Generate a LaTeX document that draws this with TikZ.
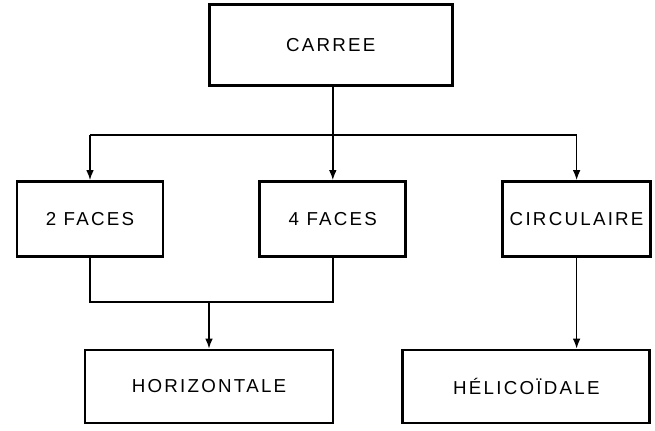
\documentclass[tikz,border=0pt]{standalone}
\usepackage{fontspec}
\setmainfont{Liberation Sans}[LetterSpace=12]
\usepackage{tikz}
\usetikzlibrary{arrows.meta, positioning}

\tikzset{
  box/.style={draw, line width=2.4pt, inner sep=0pt, minimum height=2.25cm,
    font=\fontsize{16}{18}\selectfont},
  link/.style={line width=1.2pt},
  arr/.style={link, -{Latex[length=3mm, width=2.3mm]}}
}

\begin{document}
\begin{tikzpicture}
    \useasboundingbox (0,0) rectangle (19.65,12.93);

		\node[box, minimum width=4.38cm] (two) at (2.7,6.36) {2 FACES};
		\node[box, minimum width=4.38cm] (four) [right=2.82cm of two] {4 FACES};
		\node[box, minimum width=4.44cm] (circ) [right=2.82cm of four] {CIRCULAIRE};
		\node[box, minimum width=7.29cm, minimum height=2.43cm] (carree) [above=2.79cm of four, xshift=-0.06cm] {CARREE};
		\node[box, minimum width=7.44cm, minimum height=2.19cm] (horiz) at (6.27,1.335) {HORIZONTALE};
		\node[box, minimum width=7.41cm, minimum height=2.19cm] (heli) [right=2.01cm of horiz] {HÉLICOÏDALE};

		\coordinate (bus) at (0,8.88);
		\coordinate (low) at (0,3.87);

		% upper split
		\draw[link] (four.north |- carree.south) -- (four.north |- bus);
		\draw[link] (two.north |- bus) -- (circ.north |- bus);
		\draw[arr] (two.north |- bus) -- (two.north);
		\draw[arr] (four.north |- bus) -- (four.north);
		\draw[arr] (circ.north |- bus) -- (circ.north);

		% lower join
		\draw[link] (two.south) |- (four.south |- low) -- (four.south);
		\draw[arr] (horiz.north |- low) -- (horiz.north);
		\draw[arr] (circ.south) -- (circ.south |- heli.north);
    \end{tikzpicture}
\end{document}
